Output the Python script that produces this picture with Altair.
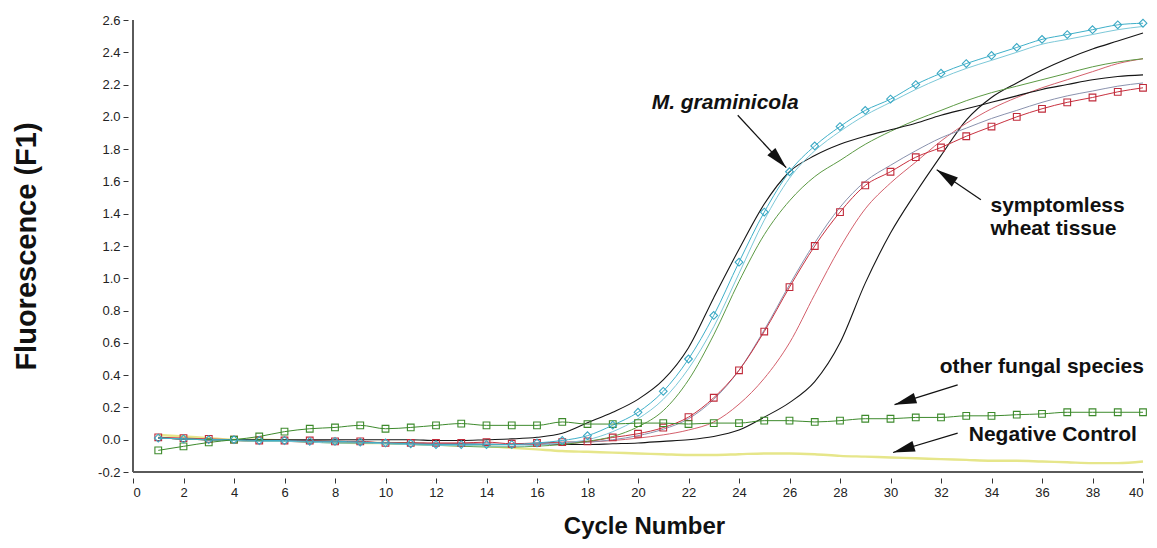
import math
import altair as alt
import pandas as pd

cycles = list(range(1, 41))

# Fluorescence (F1) per cycle
mgram_diamond = [0.01, 0.005, 0.0, 0.0, -0.005, -0.005, -0.01, -0.01, -0.015, -0.02,
                 -0.025, -0.03, -0.03, -0.03, -0.03, -0.02, -0.005, 0.025, 0.09, 0.17,
                 0.30, 0.50, 0.77, 1.10, 1.41, 1.66, 1.82, 1.94, 2.04, 2.11,
                 2.20, 2.27, 2.33, 2.38, 2.43, 2.48, 2.51, 2.54, 2.57, 2.58]
mgram_plain = [0.01, 0.005, 0.0, -0.005, -0.01, -0.01, -0.015, -0.02, -0.02, -0.025,
               -0.03, -0.035, -0.035, -0.04, -0.04, -0.035, -0.02, 0.0, 0.05, 0.13,
               0.25, 0.44, 0.70, 1.03, 1.36, 1.62, 1.79, 1.91, 2.01, 2.09,
               2.17, 2.24, 2.30, 2.35, 2.40, 2.45, 2.48, 2.51, 2.54, 2.56]
black_early = [0.01, 0.005, 0.0, 0.0, 0.0, 0.0, 0.0, 0.0, 0.0, 0.0,
               0.0, -0.005, -0.005, 0.0, 0.005, 0.015, 0.04, 0.105, 0.17, 0.25,
               0.37, 0.57, 0.88, 1.18, 1.46, 1.66, 1.76, 1.83, 1.88, 1.92,
               1.96, 2.01, 2.05, 2.09, 2.13, 2.17, 2.20, 2.23, 2.25, 2.26]
green_plain = [0.01, 0.005, 0.0, -0.005, -0.01, -0.01, -0.015, -0.02, -0.02, -0.025,
               -0.03, -0.035, -0.04, -0.045, -0.045, -0.04, -0.03, -0.01, 0.02, 0.08,
               0.18, 0.37, 0.65, 0.98, 1.27, 1.48, 1.63, 1.73, 1.83, 1.91,
               1.98, 2.04, 2.10, 2.15, 2.19, 2.23, 2.27, 2.31, 2.34, 2.36]
red_square = [0.015, 0.01, 0.005, 0.0, -0.005, -0.005, -0.005, -0.01, -0.01, -0.02,
              -0.02, -0.02, -0.02, -0.015, -0.025, -0.02, -0.015, -0.01, 0.014, 0.037,
              0.075, 0.14, 0.26, 0.43, 0.67, 0.945, 1.20, 1.41, 1.575, 1.66,
              1.75, 1.81, 1.88, 1.94, 2.00, 2.05, 2.09, 2.12, 2.155, 2.18]
gray_plain = [0.01, 0.005, 0.0, -0.005, -0.005, -0.01, -0.01, -0.015, -0.015, -0.02,
              -0.025, -0.025, -0.025, -0.025, -0.03, -0.025, -0.02, -0.015, 0.0, 0.025,
              0.065, 0.13, 0.25, 0.43, 0.68, 0.96, 1.22, 1.44, 1.60, 1.70,
              1.79, 1.87, 1.93, 1.99, 2.04, 2.09, 2.13, 2.16, 2.19, 2.21]
red_plain = [0.01, 0.005, 0.0, -0.005, -0.01, -0.01, -0.015, -0.015, -0.02, -0.02,
             -0.025, -0.025, -0.03, -0.03, -0.03, -0.03, -0.025, -0.015, -0.005, 0.01,
             0.03, 0.06, 0.11, 0.22, 0.38, 0.60, 0.90, 1.19, 1.43, 1.59,
             1.72, 1.85, 1.96, 2.05, 2.12, 2.18, 2.23, 2.28, 2.33, 2.36]
black_late = [0.01, 0.005, 0.0, 0.0, -0.005, -0.005, -0.01, -0.01, -0.015, -0.02,
              -0.02, -0.025, -0.025, -0.03, -0.03, -0.03, -0.03, -0.03, -0.025, -0.02,
              -0.01, 0.0, 0.02, 0.06, 0.14, 0.23, 0.36, 0.60, 0.97, 1.28,
              1.53, 1.76, 1.98, 2.12, 2.21, 2.29, 2.36, 2.42, 2.47, 2.52]
other_fungi = [-0.066, -0.041, -0.017, 0.0, 0.02, 0.05, 0.068, 0.076, 0.089, 0.068,
               0.076, 0.089, 0.10, 0.089, 0.089, 0.089, 0.11, 0.097, 0.097, 0.103,
               0.103, 0.097, 0.103, 0.103, 0.118, 0.118, 0.11, 0.118, 0.13, 0.13,
               0.138, 0.138, 0.148, 0.148, 0.155, 0.16, 0.17, 0.17, 0.17, 0.17]
negative = [0.03, 0.02, 0.01, 0.0, 0.0, -0.005, -0.01, -0.015, -0.02, -0.02,
            -0.025, -0.03, -0.035, -0.04, -0.05, -0.06, -0.07, -0.075, -0.08, -0.085,
            -0.09, -0.095, -0.095, -0.09, -0.085, -0.085, -0.09, -0.1, -0.105, -0.11,
            -0.115, -0.12, -0.125, -0.13, -0.13, -0.135, -0.14, -0.145, -0.145, -0.135]

# drawing order (bottom first), colour, line width
series = [
    ("negative", negative, "#e6e68a", 2.4),
    ("black_late", black_late, "#151515", 1.1),
    ("red_plain", red_plain, "#d4606c", 1.0),
    ("gray_plain", gray_plain, "#8a92ae", 1.0),
    ("red_square", red_square, "#c8313f", 1.0),
    ("green_plain", green_plain, "#5c9a44", 1.0),
    ("black_early", black_early, "#151515", 1.1),
    ("mgram_plain", mgram_plain, "#7cc8d8", 1.0),
    ("mgram_diamond", mgram_diamond, "#3fb0c9", 1.0),
    ("other_fungi", other_fungi, "#3d8a2c", 1.0),
]
markers = [
    ("red_square", "square", "#c02a3a"),
    ("other_fungi", "square", "#3d8a2c"),
    ("mgram_diamond", "diamond", "#3aa8c4"),
]

y_ticks = [-0.2, 0.0, 0.2, 0.4, 0.6, 0.8, 1.0, 1.2, 1.4, 1.6, 1.8, 2.0, 2.2, 2.4, 2.6]
x_ticks = list(range(0, 41, 2))

labels = ["M. graminicola", "symptomless", "wheat tissue", "other fungal species", "Negative Control"]
label_x = [20.54, 33.96, 33.96, 31.95, 33.1]
label_y = [2.05, 1.41, 1.27, 0.415, -0.01]
label_style = ["italic", "normal", "normal", "normal", "normal"]

arrow_tail_x = [23.95, 33.58, 32.66, 32.66]
arrow_tail_y = [2.01, 1.486, 0.34, 0.041]
arrow_tip_x = [25.87, 31.83, 30.16, 30.1]
arrow_tip_y = [1.685, 1.672, 0.217, -0.079]

W, H = 1010, 452
FONT = "Liberation Sans"

rows = []
for name, vals, _, _ in series:
    for c, v in zip(cycles, vals):
        rows.append({"cycle": c, "F": v, "series": name})
df = pd.DataFrame(rows)

xscale = alt.Scale(domain=[0, 40], nice=False, zero=False)
yscale = alt.Scale(domain=[-0.2, 2.6], nice=False, zero=False)
xaxis = alt.Axis(values=x_ticks, domain=False, grid=False, offset=6, tickSize=5,
                 tickColor="#333333", tickWidth=1, labelFont=FONT, labelFontSize=13,
                 labelColor="#222222", labelPadding=3, title="Cycle Number",
                 titleFont=FONT, titleFontSize=24, titleFontWeight="bold",
                 titleColor="#111111", titlePadding=15, titleX=511)
yaxis = alt.Axis(values=y_ticks, domain=False, grid=False, offset=5, tickSize=5,
                 tickColor="#333333", tickWidth=1, labelFont=FONT, labelFontSize=13,
                 labelColor="#222222", labelPadding=3,
                 labelExpr="datum.value < -0.0001 ? '-' + format(-datum.value, '.1f') : format(abs(datum.value), '.1f')",
                 title="Fluorescence (F1)", titleFont=FONT, titleFontSize=29,
                 titleFontWeight="bold", titleColor="#111111", titlePadding=56)


def X(field="cycle"):
    return alt.X(f"{field}:Q", scale=xscale, axis=xaxis)


def Y(field="F"):
    return alt.Y(f"{field}:Q", scale=yscale, axis=yaxis)


layers = []

axis_df = pd.DataFrame({"cycle": [0, 0], "cycle2": [40, 0], "F": [-0.2, -0.2], "F2": [-0.2, 2.6]})
layers.append(alt.Chart(axis_df).mark_rule(color="#5a5a5a", strokeWidth=2).encode(
    x=X(), x2="cycle2:Q", y=Y(), y2="F2:Q"))

for name, _, col, sw in series:
    layers.append(alt.Chart(df).transform_filter(alt.datum.series == name)
                  .mark_line(color=col, strokeWidth=sw, interpolate="monotone")
                  .encode(x=X(), y=Y(), order="cycle:Q"))

for name, shape, col in markers:
    layers.append(alt.Chart(df).transform_filter(alt.datum.series == name)
                  .mark_point(shape=shape, filled=False, color=col, size=60 if shape == "diamond" else 45,
                              strokeWidth=1.1, opacity=1)
                  .encode(x=X(), y=Y()))

PX, PY = W / 40.0, H / 2.8
angles = []
for tx, ty, hx, hy in zip(arrow_tail_x, arrow_tail_y, arrow_tip_x, arrow_tip_y):
    dx = (hx - tx) * PX
    dy = -(hy - ty) * PY
    angles.append(math.degrees(math.atan2(dx, -dy)) % 360)

arrow_df = pd.DataFrame({"cycle": arrow_tail_x, "F": arrow_tail_y,
                         "cycle2": arrow_tip_x, "F2": arrow_tip_y})
head_df = pd.DataFrame({"cycle": arrow_tip_x, "F": arrow_tip_y, "angle": angles})

layers.append(alt.Chart(arrow_df).mark_rule(color="#111111", strokeWidth=1.2).encode(
    x=X(), x2="cycle2:Q", y=Y(), y2="F2:Q"))
layers.append(alt.Chart(head_df).mark_point(shape="M0,0L0.5,2L-0.5,2Z", filled=True,
                                            color="#111111", size=480, strokeWidth=0, opacity=1)
              .encode(x=X(), y=Y(), angle=alt.Angle("angle:Q", scale=None)))

text_df = pd.DataFrame({"cycle": label_x, "F": label_y, "label": labels, "style": label_style})
for st in ["italic", "normal"]:
    layers.append(alt.Chart(text_df).transform_filter(alt.datum.style == st)
                  .mark_text(align="left", baseline="alphabetic", font=FONT, fontSize=21,
                             fontWeight="bold", fontStyle=st, color="#111111")
                  .encode(x=X(), y=Y(), text="label:N"))

chart = alt.layer(*layers).properties(
    width=W, height=H,
    autosize=alt.AutoSizeParams(type="none"),
    padding={"left": 125, "top": 12, "right": 6, "bottom": 68},
    background="white",
).configure_view(stroke=None)

chart.save("out.html", embed_options={"renderer": "svg", "actions": False})
